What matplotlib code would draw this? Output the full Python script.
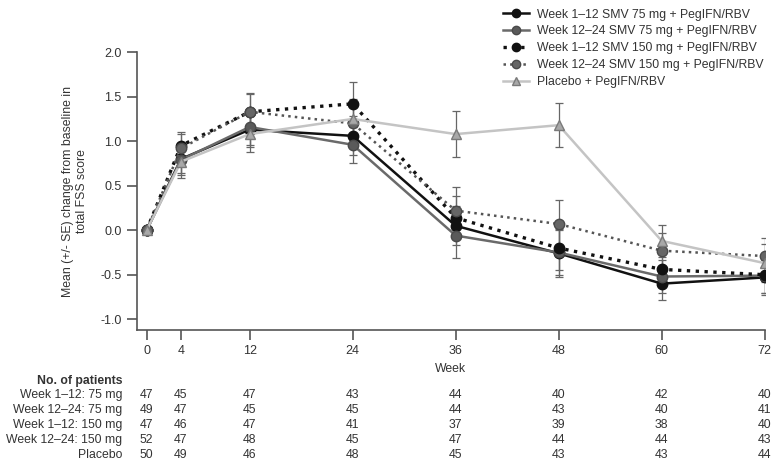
import matplotlib.pyplot as plt
import matplotlib.transforms as mtransforms

# x positions (weeks) and series means / SE
weeks = [0, 4, 12, 24, 36, 48, 60, 72]

smv75_w1 = [0.0, 0.80, 1.13, 1.06, 0.05, -0.26, -0.60, -0.53]
smv75_w12 = [0.0, 0.79, 1.16, 0.96, -0.06, -0.25, -0.52, -0.51]
smv150_w1 = [0.0, 0.95, 1.33, 1.42, 0.14, -0.20, -0.44, -0.50]
smv150_w12 = [0.0, 0.92, 1.33, 1.20, 0.22, 0.07, -0.23, -0.29]
placebo = [0.0, 0.77, 1.08, 1.25, 1.08, 1.18, -0.12, -0.37]

se75_w1 = [0.0, 0.16, 0.20, 0.22, 0.22, 0.27, 0.18, 0.20]
se75_w12 = [0.0, 0.17, 0.20, 0.20, 0.25, 0.25, 0.19, 0.19]
se150_w1 = [0.0, 0.15, 0.20, 0.24, 0.24, 0.25, 0.20, 0.20]
se150_w12 = [0.0, 0.16, 0.21, 0.23, 0.26, 0.27, 0.20, 0.20]
se_placebo = [0.0, 0.18, 0.20, 0.22, 0.26, 0.25, 0.18, 0.21]

labels = ["Week 1\u201312 SMV 75 mg + PegIFN/RBV",
          "Week 12\u201324 SMV 75 mg + PegIFN/RBV",
          "Week 1\u201312 SMV 150 mg + PegIFN/RBV",
          "Week 12\u201324 SMV 150 mg + PegIFN/RBV",
          "Placebo + PegIFN/RBV"]

row_labels = ["Week 1\u201312: 75 mg", "Week 12\u201324: 75 mg", "Week 1\u201312: 150 mg",
              "Week 12\u201324: 150 mg", "Placebo"]
n_75_w1 = [47, 45, 47, 43, 44, 40, 42, 40]
n_75_w12 = [49, 47, 45, 45, 44, 43, 40, 41]
n_150_w1 = [47, 46, 47, 41, 37, 39, 38, 40]
n_150_w12 = [52, 47, 48, 45, 47, 44, 44, 43]
n_placebo = [50, 49, 46, 48, 45, 43, 43, 44]

plt.rcParams['font.family'] = ['Liberation Sans', 'DejaVu Sans']
txt_col = '#333333'
ax_col = '#555555'
fs = 8.8

fig = plt.figure(figsize=(7.78, 4.66), dpi=100)
ax = fig.add_axes([0.176, 0.292, 0.807, 0.596])

styles = [
    (smv75_w1, se75_w1, dict(color='#111111', ls='-', lw=1.8, marker='o', mfc='#111111', mec='#111111')),
    (smv75_w12, se75_w12, dict(color='#6a6a6a', ls='-', lw=1.8, marker='o', mfc='#5a5a5a', mec='#4a4a4a')),
    (smv150_w1, se150_w1, dict(color='#111111', ls=':', lw=2.4, marker='o', mfc='#111111', mec='#111111')),
    (smv150_w12, se150_w12, dict(color='#555555', ls=':', lw=1.8, marker='o', mfc='#666666', mec='#4a4a4a')),
    (placebo, se_placebo, dict(color='#c4c4c4', ls='-', lw=1.8, marker='^', mfc='#a8a8a8', mec='#7a7a7a')),
]

handles = []
for (vals, se, st), lab in zip(styles, labels):
    ax.errorbar(weeks, vals, yerr=se, fmt='none', ecolor='#666666', elinewidth=0.9,
                capsize=3, capthick=0.9, zorder=2)
    ln, = ax.plot(weeks, vals, markersize=7.5, zorder=3, label=lab, **st)
    handles.append(ln)

ax.set_xlim(-1.13, 72)
ax.set_ylim(-1.12, 2.0)
ax.set_yticks([-1.0, -0.5, 0.0, 0.5, 1.0, 1.5, 2.0])
ax.set_yticklabels(['-1.0', '-0.5', '0.0', '0.5', '1.0', '1.5', '2.0'])
ax.set_xticks(weeks)
for s in ['top', 'right']:
    ax.spines[s].set_visible(False)
for s in ['left', 'bottom']:
    ax.spines[s].set_color(ax_col)
    ax.spines[s].set_linewidth(1.2)
ax.tick_params(axis='both', colors=ax_col, labelcolor=txt_col, labelsize=9,
               length=7, width=1.2, direction='out', pad=4)

ax.set_xlabel('Week', fontsize=fs, color=txt_col, labelpad=4)
ax.set_ylabel('Mean (+/- SE) change from baseline in\ntotal FSS score', fontsize=fs,
              color=txt_col, labelpad=9, linespacing=1.2)

leg = fig.legend(handles=handles, loc='upper left', bbox_to_anchor=(0.635, 1.0),
                 frameon=False, fontsize=fs, handlelength=2.2, handletextpad=0.6,
                 labelspacing=0.4, labelcolor=txt_col, borderaxespad=0.3)
for h in leg.legend_handles:
    h.set_markersize(6)

# number of patients table under the axis
trans = mtransforms.blended_transform_factory(ax.transData, fig.transFigure)
lab_x = 0.157
fig.text(lab_x, 1 - 381 / 466, 'No. of patients', ha='right', va='center',
         fontsize=fs, fontweight='bold', color=txt_col)
rows = [n_75_w1, n_75_w12, n_150_w1, n_150_w12, n_placebo]
row_y = [395, 410, 425, 440, 455]
for lab, counts, yp in zip(row_labels, rows, row_y):
    yf = 1 - yp / 466
    fig.text(lab_x, yf, lab, ha='right', va='center', fontsize=fs, color=txt_col)
    for w, c in zip(weeks, counts):
        ax.text(w, yf, str(c), transform=trans, ha='center', va='center',
                fontsize=fs, color=txt_col)

fig.savefig('out.png', dpi=100)
